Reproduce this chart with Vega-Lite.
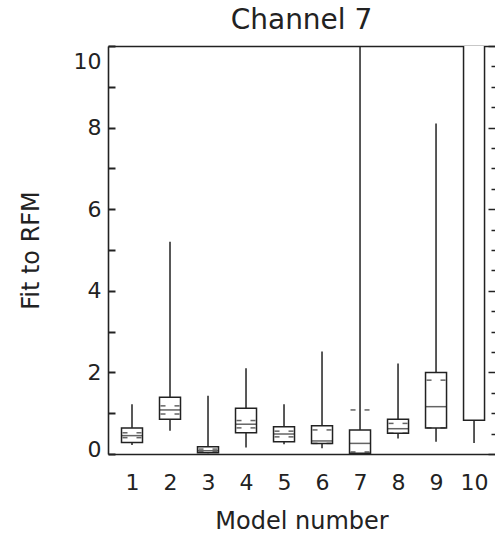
{
  "$schema": "https://vega.github.io/schema/vega-lite/v6.json",
  "width": 387,
  "height": 408,
  "autosize": {"type": "none"},
  "padding": {"left": 108, "top": 46, "right": 0, "bottom": 83},
  "title": {"text": "Channel  7", "font": "DejaVu Sans", "fontSize": 28, "fontWeight": "normal", "color": "#222", "offset": 10, "anchor": "middle"},
  "config": {
    "view": {"stroke": null, "fill": null},
    "axis": {"labelFont": "DejaVu Sans", "titleFont": "DejaVu Sans", "labelColor": "#222", "titleColor": "#222", "domainColor": "#222", "tickColor": "#222", "grid": false, "titleFontWeight": "normal", "domainWidth": 1.6}
  },
  "data": {"values": [
    {"model": 1, "lo": 0.22, "q1": 0.28, "med": 0.45, "q3": 0.64, "hi": 1.22, "nlo": 0.40, "nhi": 0.52},
    {"model": 2, "lo": 0.57, "q1": 0.85, "med": 1.08, "q3": 1.39, "hi": 5.20, "nlo": 0.98, "nhi": 1.18},
    {"model": 3, "lo": 0.02, "q1": 0.03, "med": 0.08, "q3": 0.18, "hi": 1.43, "nlo": 0.05, "nhi": 0.12},
    {"model": 4, "lo": 0.16, "q1": 0.52, "med": 0.73, "q3": 1.12, "hi": 2.10, "nlo": 0.64, "nhi": 0.82},
    {"model": 5, "lo": 0.24, "q1": 0.30, "med": 0.49, "q3": 0.67, "hi": 1.22, "nlo": 0.42, "nhi": 0.56},
    {"model": 6, "lo": 0.14, "q1": 0.26, "med": 0.32, "q3": 0.69, "hi": 2.51, "nlo": 0.26, "nhi": 0.59},
    {"model": 7, "lo": 0.0, "q1": 0.02, "med": 0.26, "q3": 0.59, "hi": 30, "nlo": 0.05, "nhi": 1.08},
    {"model": 8, "lo": 0.38, "q1": 0.51, "med": 0.62, "q3": 0.85, "hi": 2.22, "nlo": 0.51, "nhi": 0.75},
    {"model": 9, "lo": 0.30, "q1": 0.64, "med": 1.16, "q3": 2.00, "hi": 8.10, "nlo": 0.64, "nhi": 1.81},
    {"model": 10, "lo": 0.27, "q1": 0.83, "med": 13, "q3": 15, "hi": 30, "nlo": 12, "nhi": 14}
  ]},
  "resolve": {"axis": {"x": "independent", "y": "independent"}},
  "layer": [
    {
      "mark": {"type": "rule", "color": "#222", "strokeWidth": 1.5, "clip": true},
      "encoding": {
        "x": {"field": "model", "type": "quantitative", "scale": {"domain": [0.5, 10.42], "nice": false, "zero": false},
          "axis": {"orient": "bottom", "values": [1, 2, 3, 4, 5, 6, 7, 8, 9, 10], "ticks": false, "labelFontSize": 22, "labelPadding": 18, "title": "Model number", "titleFontSize": 24, "titlePadding": 16}},
        "y": {"field": "lo", "type": "quantitative", "scale": {"domain": [0, 10], "nice": false, "zero": true},
          "axis": {"orient": "left", "zindex": 2, "values": [0, 0.5, 1, 1.5, 2, 2.5, 3, 3.5, 4, 4.5, 5, 5.5, 6, 6.5, 7, 7.5, 8, 8.5, 9, 9.5, 10],
            "format": "d",
            "labelExpr": "datum.value % 2 === 0 ? datum.label : ''",
            "tickSize": -7,
            "tickWidth": 2,
            "labelFontSize": 22, "labelPadding": 14, "labelFlush": false,
            "labelOffset": {"condition": [{"test": "datum.value === 10", "value": 15}, {"test": "datum.value === 0", "value": -5}], "value": 0},
            "title": "Fit to RFM", "titleFontSize": 24, "titlePadding": 30}},
        "y2": {"field": "hi"}
      }
    },
    {
      "mark": {"type": "bar", "size": 21, "orient": "vertical", "fill": "white", "stroke": "#222", "strokeWidth": 1.5, "clip": true},
      "encoding": {
        "x": {"field": "model", "type": "quantitative", "axis": {"orient": "top", "labels": false, "ticks": false, "title": null}},
        "y": {"field": "q1", "type": "quantitative", "axis": {"orient": "right", "values": [0, 0.5, 1, 1.5, 2, 2.5, 3, 3.5, 4, 4.5, 5, 5.5, 6, 6.5, 7, 7.5, 8, 8.5, 9, 9.5, 10], "labels": false, "domain": false, "title": null,
          "tickSize": {"condition": {"test": "datum.value % 2 === 0", "value": -7}, "value": -4}, "tickWidth": 1.5}},
        "y2": {"field": "q3"}
      }
    },
    {
      "mark": {"type": "tick", "orient": "horizontal", "size": 21, "thickness": 1.5, "color": "#222", "clip": true},
      "encoding": {
        "x": {"field": "model", "type": "quantitative", "axis": null},
        "y": {"field": "med", "type": "quantitative", "axis": null}
      }
    },
    {
      "mark": {"type": "tick", "orient": "horizontal", "size": 5, "thickness": 1.5, "color": "#222", "clip": true, "xOffset": -7},
      "encoding": {
        "x": {"field": "model", "type": "quantitative", "axis": null},
        "y": {"field": "nhi", "type": "quantitative", "axis": null}
      }
    },
    {
      "mark": {"type": "tick", "orient": "horizontal", "size": 5, "thickness": 1.5, "color": "#222", "clip": true, "xOffset": 7},
      "encoding": {
        "x": {"field": "model", "type": "quantitative", "axis": null},
        "y": {"field": "nhi", "type": "quantitative", "axis": null}
      }
    },
    {
      "mark": {"type": "tick", "orient": "horizontal", "size": 5, "thickness": 1.5, "color": "#222", "clip": true, "xOffset": -7},
      "encoding": {
        "x": {"field": "model", "type": "quantitative", "axis": null},
        "y": {"field": "nlo", "type": "quantitative", "axis": null}
      }
    },
    {
      "mark": {"type": "tick", "orient": "horizontal", "size": 5, "thickness": 1.5, "color": "#222", "clip": true, "xOffset": 7},
      "encoding": {
        "x": {"field": "model", "type": "quantitative", "axis": null},
        "y": {"field": "nlo", "type": "quantitative", "axis": null}
      }
    }
  ]
}
